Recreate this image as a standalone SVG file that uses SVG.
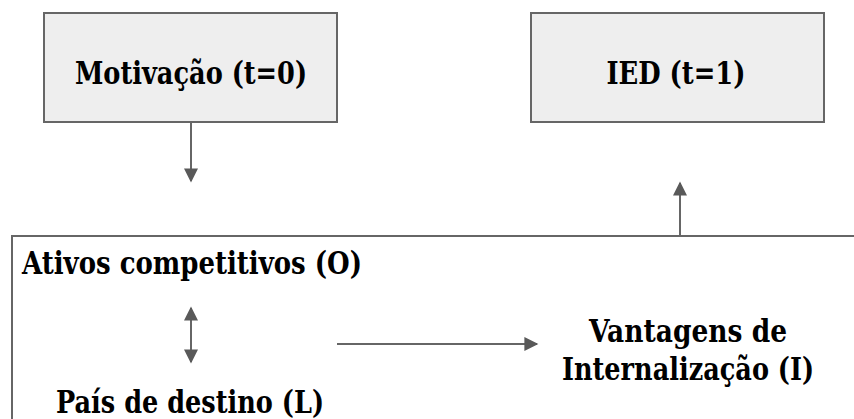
<svg xmlns="http://www.w3.org/2000/svg" width="854" height="419" viewBox="0 0 854 419">
  <style>
    .box { fill: #eeeeee; stroke: #666666; stroke-width: 2; }
    .frame { fill: #ffffff; stroke: #666666; stroke-width: 2; }
    .lbl { font-family: "DejaVu Serif", "Liberation Serif", serif; font-weight: bold; font-size: 32px; fill: #000000; }
    .mid { text-anchor: middle; }
    .conn { stroke: #666666; stroke-width: 2; fill: none; }
  </style>
  <defs>
    <marker id="head" viewBox="0 0 10 10" refX="9" refY="5" markerWidth="8.5" markerHeight="7" orient="auto-start-reverse" markerUnits="strokeWidth">
      <path d="M0,0 L10,5 L0,10 z" fill="#595959"/>
    </marker>
  </defs>

  <rect width="854" height="419" fill="#ffffff"/>

  <!-- OLI frame (runs off the right and bottom edges) -->
  <g id="oli-frame">
    <rect class="frame" x="12" y="236" width="860" height="200"/>
  </g>

  <g id="motivacao">
    <rect class="box" x="44" y="13" width="293" height="109"/>
    <text class="lbl mid" x="191" y="84" textLength="232" lengthAdjust="spacingAndGlyphs">Motivação (t=0)</text>
  </g>

  <g id="ied">
    <rect class="box" x="531" y="13" width="293" height="109"/>
    <text class="lbl mid" x="676" y="84" textLength="139" lengthAdjust="spacingAndGlyphs">IED (t=1)</text>
  </g>

  <g id="ativos">
    <text class="lbl" x="22" y="274" textLength="340" lengthAdjust="spacingAndGlyphs">Ativos competitivos (O)</text>
  </g>

  <g id="pais">
    <text class="lbl mid" x="190" y="413" textLength="268" lengthAdjust="spacingAndGlyphs">País de destino (L)</text>
  </g>

  <g id="vantagens">
    <text class="lbl mid" x="688" y="342" textLength="198" lengthAdjust="spacingAndGlyphs">Vantagens de</text>
    <text class="lbl mid" x="688" y="380" textLength="252" lengthAdjust="spacingAndGlyphs">Internalização (I)</text>
  </g>

  <g id="connectors">
    <line class="conn" x1="191" y1="122" x2="191" y2="181" marker-end="url(#head)"/>
    <line class="conn" x1="680" y1="236" x2="680" y2="183" marker-end="url(#head)"/>
    <line class="conn" x1="191" y1="308" x2="191" y2="362" marker-start="url(#head)" marker-end="url(#head)"/>
    <line class="conn" x1="337" y1="344" x2="537" y2="344" marker-end="url(#head)"/>
  </g>
</svg>
